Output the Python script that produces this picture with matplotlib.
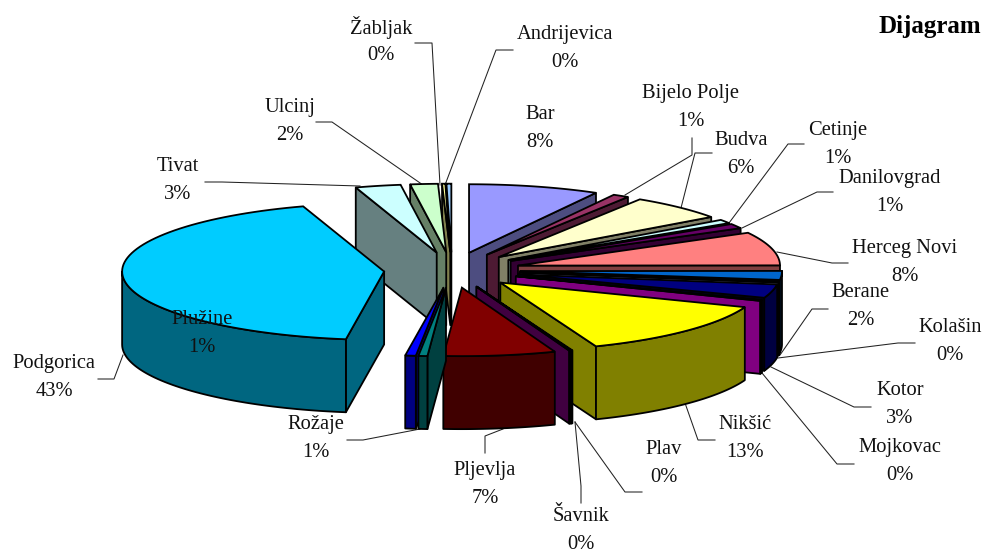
import numpy as np
import matplotlib
matplotlib.use('Agg')
import matplotlib.pyplot as plt
from matplotlib.colors import to_rgb

# opcine, u redoslijedu kriski (od 12 sati, u smjeru kazaljke)
opcine = ['Bar', 'Bijelo Polje', 'Budva', 'Cetinje', 'Danilovgrad', 'Herceg Novi',
          'Berane', 'Kolašin', 'Kotor', 'Mojkovac', 'Nikšić', 'Plav', 'Šavnik',
          'Pljevlja', 'Plužine', 'Rožaje', 'Podgorica', 'Tivat', 'Ulcinj',
          'Žabljak', 'Andrijevica']
udio = [8.05, 1.0, 6.0, 0.9, 1.1, 7.9, 2.1, 0.3, 3.2, 0.3, 13.2, 0.08, 0.1,
        6.9, 0.55, 0.65, 42.67, 2.8, 1.7, 0.2, 0.3]
boje = ['#9999FF', '#993366', '#FFFFCC', '#CCFFFF', '#660066', '#FF8080',
        '#0066CC', '#CCCCFF', '#000080', '#FF00FF', '#FFFF00', '#00FFFF',
        '#800080', '#800000', '#008080', '#0000FF', '#00CCFF', '#CCFFFF',
        '#CCFFCC', '#FFFF99', '#99CCFF']

# centar natpisa (px) i linija do kriske
natpis_xy = {'Bar': (540, 126), 'Bijelo Polje': (691, 105), 'Budva': (741, 152),
             'Cetinje': (838, 142), 'Danilovgrad': (890, 190), 'Herceg Novi': (905, 260),
             'Berane': (861, 304), 'Kolašin': (950, 339), 'Kotor': (900, 402),
             'Mojkovac': (900, 459), 'Nikšić': (745, 436), 'Plav': (664, 461),
             'Šavnik': (581, 528), 'Pljevlja': (485, 482), 'Plužine': (202, 331),
             'Rožaje': (316, 436), 'Podgorica': (54, 375), 'Tivat': (178, 178),
             'Ulcinj': (290, 119), 'Žabljak': (381, 39), 'Andrijevica': (565, 46)}
linije = [[(625, 195), (692, 155), (692, 138)],
          [(681, 208), (695, 153), (712, 153)],
          [(729, 223), (788, 144), (804, 144)],
          [(742, 228), (817, 192), (833, 192)],
          [(777, 252), (832, 263), (848, 263)],
          [(780, 355), (812, 309), (828, 309)],
          [(778, 358), (898, 343), (915, 343)],
          [(771, 367), (854, 407), (871, 407)],
          [(762, 373), (837, 464), (854, 464)],
          [(685, 403), (698, 440), (715, 440)],
          [(575, 422), (625, 492), (642, 492)],
          [(575, 422), (581, 486), (581, 503)],
          [(503, 429), (485, 436), (485, 453)],
          [(420, 429), (363, 440), (347, 440)],
          [(123, 355), (114, 379), (98, 379)],
          [(360, 186), (222, 182), (205, 182)],
          [(423, 185), (332, 122), (316, 122)],
          [(440, 185), (432, 43), (415, 43)],
          [(445, 185), (496, 50), (513, 50)]]

cx, cy = 452, 270
ra, rb = 262, 68.5
ekspl = 0.26
visina = 73

fig = plt.figure(figsize=(9.85, 5.52), dpi=100)
ax = fig.add_axes([0, 0, 1, 1])
ax.set_xlim(0, 985)
ax.set_ylim(552, 0)
ax.axis('off')

kut = np.cumsum([0] + udio) / sum(udio) * 2 * np.pi
kriske = []
for i, ime in enumerate(opcine):
    t0, t1 = kut[i], kut[i + 1]
    sred = (t0 + t1) / 2
    ox = cx + ekspl * ra * np.sin(sred)
    oy = cy - ekspl * rb * np.cos(sred)
    kriske.append((np.cos(sred), ox, oy, t0, t1, boje[i]))

# iscrtavanje od straznjih kriski prema prednjim
kriske.sort(key=lambda k: -k[0])
for z, (_, ox, oy, t0, t1, boja) in enumerate(kriske):
    tamna = tuple(c * 0.5 for c in to_rgb(boja))
    stil = dict(facecolor=tamna, edgecolor='black', linewidth=1.3, joinstyle='round', zorder=2 + z)

    # radijalne stranice koje se vide odozdo
    for t, normala in ((t0, t0 - np.pi / 2), (t1, t1 + np.pi / 2)):
        if np.cos(normala) < 0:
            ex, ey = ox + ra * np.sin(t), oy - rb * np.cos(t)
            ax.fill([ox, ex, ex, ox], [oy, ey, ey + visina, oy + visina], **stil)

    # vanjski obod, samo prednji dio
    a0, a1 = max(t0, np.pi / 2), min(t1, 3 * np.pi / 2)
    if a1 > a0:
        tt = np.linspace(a0, a1, 60)
        x = ox + ra * np.sin(tt)
        y = oy - rb * np.cos(tt)
        ax.fill(np.r_[x, x[::-1]], np.r_[y, y[::-1] + visina], **stil)

    # gornja ploha
    tt = np.linspace(t0, t1, 80)
    ax.fill(np.r_[ox, ox + ra * np.sin(tt)], np.r_[oy, oy - rb * np.cos(tt)],
            facecolor=boja, edgecolor='black', linewidth=1.3, zorder=2 + z)

for ln in linije:
    xs, ys = zip(*ln)
    ax.plot(xs, ys, color='#222222', lw=0.75, zorder=1)

font = 'Liberation Serif'
for ime, v in zip(opcine, udio):
    x, y = natpis_xy[ime]
    ax.text(x, y + 2.5 - 13.7, ime, ha='center', va='center', family=font, fontsize=14.8,
            color='#111111', zorder=50)
    ax.text(x, y + 2.5 + 13.7, f'{round(v)}%', ha='center', va='center', family=font, fontsize=14.8,
            color='#111111', zorder=50)

ax.text(981, 27, 'Dijagram', ha='right', va='center', family=font, fontsize=18,
        fontweight='bold', zorder=50)

fig.savefig('out.png', dpi=100)
